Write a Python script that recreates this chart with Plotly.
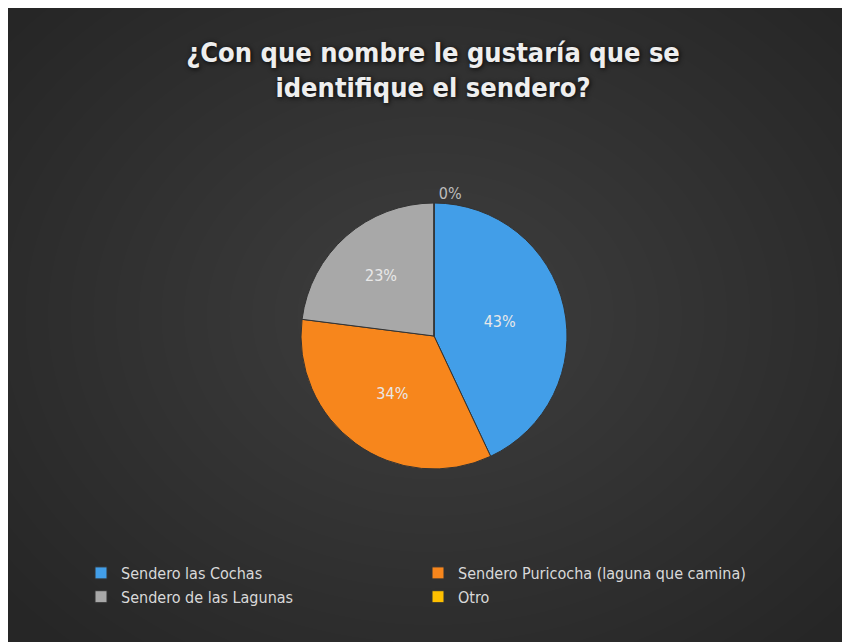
import plotly.graph_objects as go

labels = ["Sendero las Cochas", "Sendero Puricocha (laguna que camina)",
          "Sendero de las Lagunas", "Otro"]
values = [43, 34, 23, 0]
colors = ["#429ee8", "#f7861c", "#a8a8a8", "#ffc000"]
title_text = "¿Con que nombre le gustaría que se<br>identifique el sendero?"

W, H = 850, 642
font_family = "DejaVu Sans Condensed, DejaVu Sans, sans-serif"

# pie placement in paper pixels (page has an 8px body margin)
cx, cy, r = 426, 328, 133

fig = go.Figure()
fig.add_trace(go.Pie(
    labels=labels,
    values=values,
    sort=False,
    direction="clockwise",
    rotation=0,
    marker=dict(colors=colors, line=dict(color="#333333", width=1)),
    texttemplate="%{percent:.0%}",
    textposition=["inside", "inside", "inside", "outside"],
    insidetextorientation="horizontal",
    textfont=dict(family=font_family, size=16, color="#e8e8e8"),
    outsidetextfont=dict(family=font_family, size=16, color="#bdbdbd"),
    domain=dict(x=[(cx - r) / W, (cx + r) / W],
                y=[(H - cy - r) / H, (H - cy + r) / H]),
    showlegend=True,
))

# soft radial glow to imitate the gradient background
shapes = []
n = 24
for i in range(n):
    f = 1 - i / n
    shapes.append(dict(type="circle", xref="paper", yref="paper",
                       x0=0.5 - 0.64 * f, x1=0.5 + 0.64 * f,
                       y0=0.52 - 0.68 * f, y1=0.52 + 0.68 * f,
                       fillcolor="rgba(255,255,255,0.009)",
                       line=dict(width=0), layer="below"))

fig.update_layout(
    width=W, height=H,
    paper_bgcolor="#262626",
    plot_bgcolor="rgba(0,0,0,0)",
    margin=dict(l=0, r=0, t=0, b=0),
    shapes=shapes,
    title=dict(text=title_text, x=0.5, xanchor="center", y=1 - 54 / H,
               yanchor="top",
               font=dict(family="DejaVu Sans Condensed, DejaVu Sans, sans-serif",
                         size=27, color="#eeeeee", weight="bold",
                         shadow="1px 1px 5px rgba(0,0,0,0.9)")),
    legend=dict(orientation="h", x=73 / W, xanchor="left",
                y=1 - 548 / H, yanchor="top",
                entrywidth=292, entrywidthmode="pixels",
                font=dict(family=font_family, size=16, color="#d9d9d9"),
                bgcolor="rgba(0,0,0,0)"),
)

fig.write_html("out.html")
